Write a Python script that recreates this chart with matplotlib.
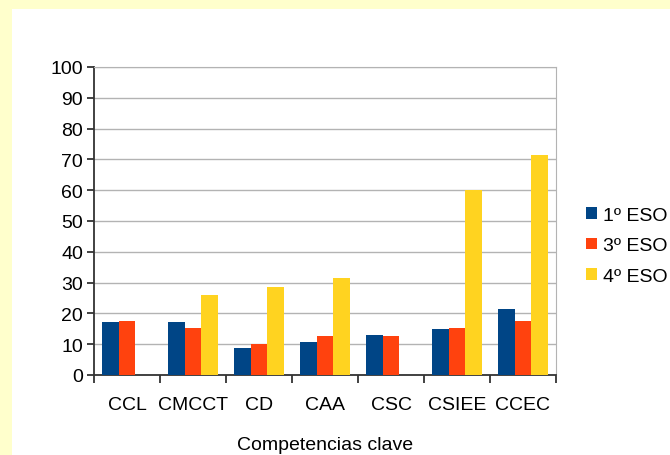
import matplotlib.pyplot as plt
import matplotlib.patches as mpatches
import numpy as np

categories = ["CCL", "CMCCT", "CD", "CAA", "CSC", "CSIEE", "CCEC"]
series_names = ["1º ESO", "3º ESO", "4º ESO"]
eso1 = [17.2, 17.2, 8.8, 10.7, 13.0, 14.9, 21.4]
eso3 = [17.5, 15.3, 10.0, 12.7, 12.7, 15.2, 17.5]
eso4 = [0, 26.0, 28.6, 31.5, 0, 60.0, 71.4]
colors = ["#004586", "#ff420e", "#ffd320"]

plt.rcParams['font.family'] = ['Liberation Sans', 'DejaVu Sans']

fig = plt.figure(figsize=(6.7, 4.56), dpi=100)
fig.patch.set_facecolor("#ffffcc")
# white panel inside the yellow frame
fig.patches.append(mpatches.Rectangle((12/670, 0), 1, 1 - 10/456, transform=fig.transFigure,
                                      facecolor="white", edgecolor="none", zorder=-10))

ax = fig.add_axes([94/670, 80/456, 462/670, 308/456])
ax.set_facecolor("white")

x = np.arange(len(categories))
w = 0.25
for i, vals in enumerate([eso1, eso3, eso4]):
    ax.bar(x + (i - 1) * w, vals, width=w, color=colors[i], label=series_names[i], zorder=3)

ax.set_xlim(-0.5, len(categories) - 0.5)
ax.set_ylim(0, 100)
ax.set_yticks(range(0, 101, 10))
ax.yaxis.grid(True, color="#b3b3b3", linewidth=1)
ax.set_axisbelow(True)

ax.set_xticks(x)
ax.set_xticklabels(categories)
ax.set_xticks(np.arange(-0.5, len(categories)), minor=True)
ax.tick_params(axis='x', which='major', length=0, labelsize=14, pad=15)
ax.tick_params(axis='x', which='minor', length=6, width=1.3, color="#333333", direction='out')
ax.tick_params(axis='y', length=5, width=1.3, color="#333333", labelsize=14, pad=3)

for side in ["top", "right"]:
    ax.spines[side].set_color("#b3b3b3")
for side in ["left", "bottom"]:
    ax.spines[side].set_color("#333333")
    ax.spines[side].set_linewidth(1.3)

ax.set_xlabel("Competencias clave", fontsize=14, labelpad=17)

fig.legend(loc="center left", bbox_to_anchor=(586/670, 1 - 247/456), frameon=False,
           fontsize=14, handlelength=0.55, handleheight=0.55, handletextpad=0.3, labelspacing=0.7,
           borderaxespad=0, borderpad=0)

fig.savefig("out.png", dpi=100, facecolor=fig.get_facecolor())
